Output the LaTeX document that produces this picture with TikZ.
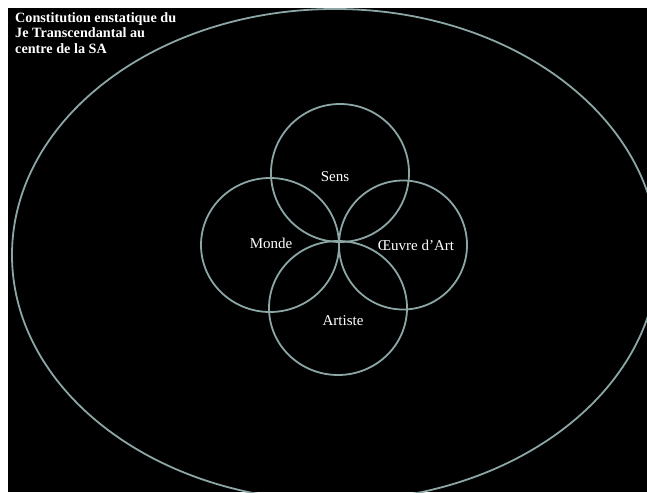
\documentclass[tikz,border=0pt]{standalone}
\usepackage{fontspec}
\setmainfont{Liberation Serif}
\definecolor{ringcol}{RGB}{140,166,166}
\begin{document}
\begin{tikzpicture}[x=1pt,y=-1pt,
  ring/.style={draw=ringcol,line width=1.8pt},
  lbl/.style={text=white,font=\fontsize{15}{17}\selectfont,inner sep=0pt},
  ttl/.style={text=white,font=\bfseries\fontsize{14.2}{15.8}\selectfont,align=left,inner sep=0pt,anchor=north west}]
\useasboundingbox (0,0) rectangle (647,492);
\fill[white] (0,0) rectangle (647,492);
\fill[black] (8,8) rectangle (647,492);
\begin{scope}
\clip (8,8) rectangle (647,492);
\draw[ring] (335,255) ellipse [x radius=323, y radius=246];
\end{scope}
\draw[ring] (340,173) ellipse [x radius=69, y radius=69];
\draw[ring] (270,245) ellipse [x radius=69, y radius=67];
\draw[ring] (403,245) ellipse [x radius=64, y radius=64.5];
\draw[ring] (338,308) ellipse [x radius=69, y radius=67];
\node[lbl] (sens) at (335,177) {Sens};
\node[lbl] (monde) at (271,243) {Monde};
\node[lbl] (oeuvre) at (416,245) {Œuvre d’Art};
\node[lbl] (artiste) at (343,321) {Artiste};
\node[ttl] (title) at (15,12) {Constitution enstatique du\\Je Transcendantal au\\centre de la SA};
\end{tikzpicture}
\end{document}
